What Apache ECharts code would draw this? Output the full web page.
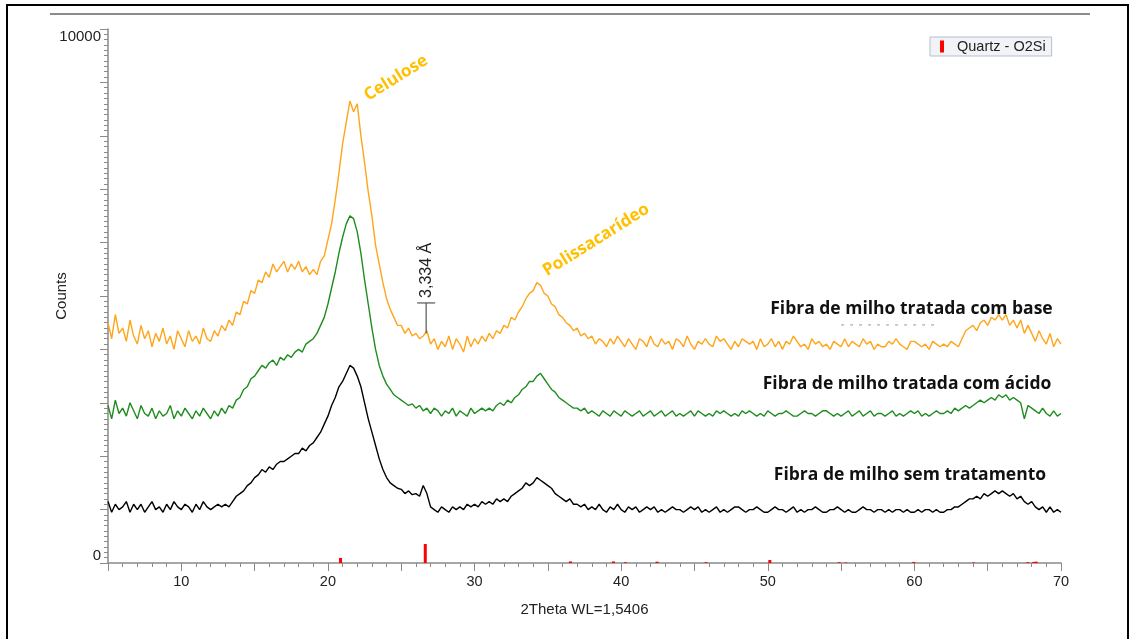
<!DOCTYPE html>
<html>
<head>
<meta charset="utf-8">
<script src="https://cdn.jsdelivr.net/npm/echarts@6/dist/echarts.min.js"></script>
<style>html,body{margin:0;padding:0;background:#fff}#c{width:1135px;height:639px}</style>
</head>
<body>
<div id="c"></div>
<script>
// 2Theta sampling of the digitised scans
var thetaStart = 5, thetaStep = 0.25;

// Fibra de milho tratada com base (orange)
var baseCounts = [
4500,4200,4650,4300, 4400,4150,4550,4250, 4100,4450,4200,4350, 4050,4300,4150,4400,
4100,4250,4000,4350, 4200,4050,4350,4150, 4250,4100,4400,4200, 4150,4350,4250,4450,
4350,4550,4450,4700, 4650,4900,4850,5100, 5050,5300,5250,5450, 5350,5600,5450,5550,
5650,5450,5600,5500, 5650,5450,5550,5400, 5500,5400,5650,5750, 6050,6350,6800,7300,
7850,8250,8650,8450, 8600,8000,7500,6950, 6500,5950,5600,5250, 4950,4750,4600,4450,
4450,4300,4400,4250, 4300,4200,4250,4350, 4100,4200,4000,4150, 4050,4250,4000,4200,
4100,3950,4250,4050, 4200,4100,4250,4150, 4300,4200,4350,4300, 4450,4400,4600,4550,
4700,4800,4950,5050, 5100,5250,5200,5050, 5000,4850,4800,4650, 4600,4500,4450,4350,
4400,4250,4300,4200, 4250,4100,4200,4150, 4050,4200,4100,4250, 4150,4050,4200,4100,
4000,4200,4150,4050, 4250,4100,4050,4200, 4100,4150,4000,4200, 4150,4050,4250,4100,
4000,4150,4100,4200, 4100,4050,4250,4150, 4200,4100,4000,4150, 4050,4200,4150,4100,
4150,4000,4200,4050, 4100,4200,4050,4150, 4000,4150,4100,4250, 4150,4050,4100,4000,
4200,4100,4150,4050, 4100,4000,4150,4100, 4050,4200,4050,4150, 4100,4050,4200,4100,
4150,4000,4100,4050, 4050,4150,4100,4200, 4100,4050,4000,4150, 4150,4100,4050,4100,
4000,4150,4100,4050, 4100,4050,4150,4100, 4050,4200,4350,4400, 4450,4350,4500,4550,
4450,4600,4550,4650, 4550,4650,4450,4550, 4400,4550,4300,4450, 4300,4150,4350,4200,
4100,4300,4050,4200, 4100
];

// Fibra de milho tratada com ácido (green)
var acidCounts = [
2950,2700,3050,2800, 2900,2750,3000,2850, 2700,2950,2800,2750, 2900,2700,2850,2750,
2800,2950,2700,2850, 2750,2900,2800,2700, 2850,2750,2900,2800, 2700,2850,2750,2900,
2800,2950,2900,3050, 3100,3250,3300,3450, 3500,3600,3700,3650, 3750,3800,3700,3850,
3800,3900,3850,3950, 4000,3950,4100,4150, 4200,4300,4450,4600, 4850,5150,5450,5800,
6100,6350,6500,6450, 6200,5800,5300,4850, 4400,4000,3700,3500, 3350,3250,3150,3100,
3050,3000,2950,2980, 2900,2950,2850,2900, 2800,2900,2850,2750, 2850,2800,2900,2750,
2850,2800,2750,2900, 2800,2850,2900,2850, 2900,2850,2950,3000, 2950,3050,3000,3100,
3150,3250,3300,3400, 3400,3500,3550,3450, 3350,3250,3200,3100, 3050,3000,2950,2900,
2900,2850,2900,2800, 2850,2800,2750,2850, 2800,2750,2850,2800, 2750,2850,2800,2750,
2800,2850,2750,2800, 2850,2750,2800,2850, 2750,2800,2850,2750, 2800,2750,2800,2850,
2750,2850,2800,2750, 2800,2750,2850,2800, 2850,2800,2750,2800, 2750,2850,2800,2850,
2800,2750,2800,2750, 2850,2800,2750,2800, 2800,2850,2800,2750, 2750,2800,2850,2800,
2800,2750,2800,2850, 2850,2800,2750,2800, 2750,2800,2850,2750, 2800,2850,2750,2800,
2850,2750,2800,2800, 2750,2800,2850,2750, 2800,2750,2800,2850, 2800,2850,2750,2800,
2750,2800,2850,2800, 2800,2850,2800,2900, 2850,2900,2950,2900, 2950,3000,3050,3000,
3050,3100,3050,3150, 3100,3150,3050,3100, 3050,3000,2700,2950, 2900,2850,2800,2900,
2800,2750,2850,2750, 2800
];

// Fibra de milho sem tratamento (black)
var rawCounts = [
1150,950,1100,1000, 1050,1150,950,1100, 1000,1100,950,1050, 1150,1000,1050,950,
1100,1000,1150,1050, 1000,1100,1050,950, 1100,1000,1150,1050, 1000,1050,1100,1050,
1100,1050,1150,1250, 1300,1350,1450,1500, 1600,1650,1750,1700, 1800,1750,1850,1900,
1900,1950,2000,2050, 2050,2150,2100,2200, 2250,2350,2450,2600, 2750,2950,3100,3300,
3400,3550,3700,3650, 3500,3300,3000,2700, 2450,2200,1950,1750, 1600,1500,1450,1400,
1380,1300,1350,1280, 1300,1250,1450,1300, 1050,1000,950,1050, 1000,950,1050,1000,
1050,1000,1100,1050, 1100,1050,1150,1100, 1150,1100,1200,1150, 1200,1150,1250,1300,
1350,1400,1500,1450, 1500,1600,1550,1500, 1450,1400,1300,1250, 1200,1150,1200,1100,
1100,1050,1100,1000, 1050,1000,1100,1000, 950,1050,1000,1100, 1000,950,1050,1000,
1050,950,1000,1050, 1000,1050,950,1000, 950,1000,1050,1000, 1000,950,1000,1050,
1000,1050,950,1000, 950,1000,1050,950, 1000,950,1000,1050, 1050,1000,950,1000,
1000,1050,1000,950, 950,1000,1050,1000, 1000,950,1000,1050, 950,1000,950,1000,
1000,1050,1000,950, 950,1000,1000,1050, 1000,950,1000,950, 950,1000,1050,1000,
1000,950,1000,1000, 950,1000,950,1000, 1000,950,1000,950, 950,1000,950,1000,
1000,950,1000,950, 950,1000,1000,1050, 1050,1100,1150,1200, 1200,1250,1200,1300,
1250,1300,1350,1300, 1350,1300,1250,1300, 1200,1250,1150,1100, 1150,1050,1000,1050,
950,1050,950,1000, 950
];

// Quartz - O2Si reference pattern (2Theta, counts)
var quartzTheta  = [20.86, 26.64, 36.54, 39.47, 40.29, 42.45, 45.79, 50.14, 54.87, 55.33, 59.96, 64.03, 67.74, 68.14, 68.31];
var quartzCounts = [95, 356, 30, 30, 15, 25, 15, 56, 15, 10, 20, 10, 15, 20, 25];

var seriesNames = ['Fibra de milho tratada com base', 'Fibra de milho tratada com ácido', 'Fibra de milho sem tratamento'];
var xTickLabels = [10, 20, 30, 40, 50, 60, 70];
var yTickLabels = [0, 10000];

function pairs(arr) {
  var out = [];
  for (var i = 0; i < arr.length; i++) out.push([thetaStart + i * thetaStep, arr[i]]);
  return out;
}
var quartzData = quartzTheta.map(function (t, i) { return [t, quartzCounts[i]]; });

var chart = echarts.init(document.getElementById('c'), null, {renderer: 'canvas'});
var axisGray = '#8a8a8a';
var AR = 'Liberation Sans, Arial, sans-serif';

chart.setOption({
  animation: false,
  backgroundColor: '#fff',
  grid: {left: 108, right: 74, top: 29, bottom: 76},
  legend: {
    data: ['Quartz - O2Si'],
    left: 930, top: 37,
    padding: [2, 6, 2, 10],
    backgroundColor: '#f1f3f6',
    borderColor: '#b4bfce', borderWidth: 1,
    icon: 'rect', itemWidth: 4, itemHeight: 12,
    textStyle: {fontFamily: AR, fontSize: 14.5, color: '#222', padding: [0, 0, 0, 8]}
  },
  xAxis: {
    type: 'value', min: 5, max: 70, interval: 5,
    name: '2Theta WL=1,5406', nameLocation: 'middle', nameGap: 39,
    nameTextStyle: {fontFamily: AR, fontSize: 15, color: '#222'},
    axisLine: {lineStyle: {color: axisGray, width: 1.5}},
    axisTick: {show: true, length: 8, lineStyle: {color: axisGray}},
    minorTick: {show: true, splitNumber: 5, length: 4, lineStyle: {color: axisGray}},
    splitLine: {show: false},
    axisLabel: {
      margin: 11, fontFamily: AR, fontSize: 14.5, color: '#222',
      formatter: function (v) { return xTickLabels.indexOf(v) >= 0 ? String(v) : ''; }
    }
  },
  yAxis: {
    type: 'value', min: 0, max: 10000, interval: 1000,
    name: 'Counts', nameLocation: 'middle', nameGap: 39, nameRotate: 90,
    nameMoveOverlap: false,
    nameTextStyle: {fontFamily: AR, fontSize: 15, color: '#222'},
    axisLine: {show: true, lineStyle: {color: axisGray, width: 1.5}},
    axisTick: {show: true, length: 8, lineStyle: {color: axisGray}},
    minorTick: {show: true, splitNumber: 10, length: 4, lineStyle: {color: axisGray}},
    splitLine: {show: false},
    axisLabel: {
      margin: 7, fontFamily: AR, fontSize: 15, color: '#222',
      verticalAlignMinLabel: 'bottom', verticalAlignMaxLabel: 'top',
      formatter: function (v) { return yTickLabels.indexOf(v) >= 0 ? String(v) : ''; }
    }
  },
  series: [
    {name: seriesNames[0], type: 'line', data: pairs(baseCounts), showSymbol: false, symbol: 'none',
     lineStyle: {color: '#FFA51A', width: 1.4}, itemStyle: {color: '#FFA51A'}, z: 3},
    {name: seriesNames[1], type: 'line', data: pairs(acidCounts), showSymbol: false, symbol: 'none',
     lineStyle: {color: '#1E8C1E', width: 1.4}, itemStyle: {color: '#1E8C1E'}, z: 3},
    {name: seriesNames[2], type: 'line', data: pairs(rawCounts), showSymbol: false, symbol: 'none',
     lineStyle: {color: '#000000', width: 1.4}, itemStyle: {color: '#000'}, z: 3},
    {name: 'Quartz - O2Si', type: 'bar', data: quartzData, barWidth: 3,
     itemStyle: {color: '#FF0000'}, z: 4}
  ]
});

function P(x, y) { return chart.convertToPixel({gridIndex: 0}, [x, y]); }
var CAL = 'Open Sans, Lato, sans-serif';
var gold = '#FFC000';
var cel = P(24.65, 9084), pol = P(38.3, 6050);
var lb = P(59.8, 4757), la = P(59.5, 3353), lr = P(59.7, 1648);
var dBot = P(26.7, 4300), dTop = P(26.7, 4870), dTxt = P(26.7, 5480);
var dashA = P(55.0, 4458), dashB = P(61.5, 4458);

var g = [
  {type: 'rect', shape: {x: 7, y: 5, width: 1121, height: 650}, style: {fill: 'none', stroke: '#000', lineWidth: 2}, z: 100},
  {type: 'line', shape: {x1: 50, y1: 14, x2: 1090, y2: 14}, style: {stroke: '#8c8c8c', lineWidth: 2}, z: 100},
  {type: 'text', x: cel[0], y: cel[1], rotation: 32 * Math.PI / 180,
   style: {text: 'Celulose', fill: gold, font: 'bold 17px ' + CAL, align: 'center', verticalAlign: 'middle'}, z: 100},
  {type: 'text', x: pol[0], y: pol[1], rotation: 32 * Math.PI / 180,
   style: {text: 'Polissacarídeo', fill: gold, font: 'bold 17px ' + CAL, align: 'center', verticalAlign: 'middle'}, z: 100},
  {type: 'text', x: lb[0], y: lb[1], style: {text: seriesNames[0], fill: '#111', font: 'bold 17.5px ' + CAL, align: 'center', verticalAlign: 'middle'}, z: 100},
  {type: 'text', x: la[0], y: la[1], style: {text: seriesNames[1], fill: '#111', font: 'bold 17.5px ' + CAL, align: 'center', verticalAlign: 'middle'}, z: 100},
  {type: 'text', x: lr[0], y: lr[1], style: {text: seriesNames[2], fill: '#111', font: 'bold 17.5px ' + CAL, align: 'center', verticalAlign: 'middle'}, z: 100},
  {type: 'line', shape: {x1: dBot[0], y1: dBot[1], x2: dTop[0], y2: dTop[1]}, style: {stroke: '#555', lineWidth: 1.2}, z: 100},
  {type: 'line', shape: {x1: dTop[0] - 9, y1: dTop[1], x2: dTop[0] + 9, y2: dTop[1]}, style: {stroke: '#555', lineWidth: 1.2}, z: 100},
  {type: 'text', x: dTxt[0], y: dTxt[1], rotation: Math.PI / 2,
   style: {text: '3,334 Å', fill: '#222', font: '16px ' + AR, align: 'center', verticalAlign: 'middle'}, z: 100},
  {type: 'line', shape: {x1: dashA[0], y1: dashA[1], x2: dashB[0], y2: dashB[1]}, style: {stroke: '#9a9a9a', lineWidth: 1, lineDash: [3, 6]}, z: 100}
];
chart.setOption({graphic: g});
</script>
</body>
</html>
